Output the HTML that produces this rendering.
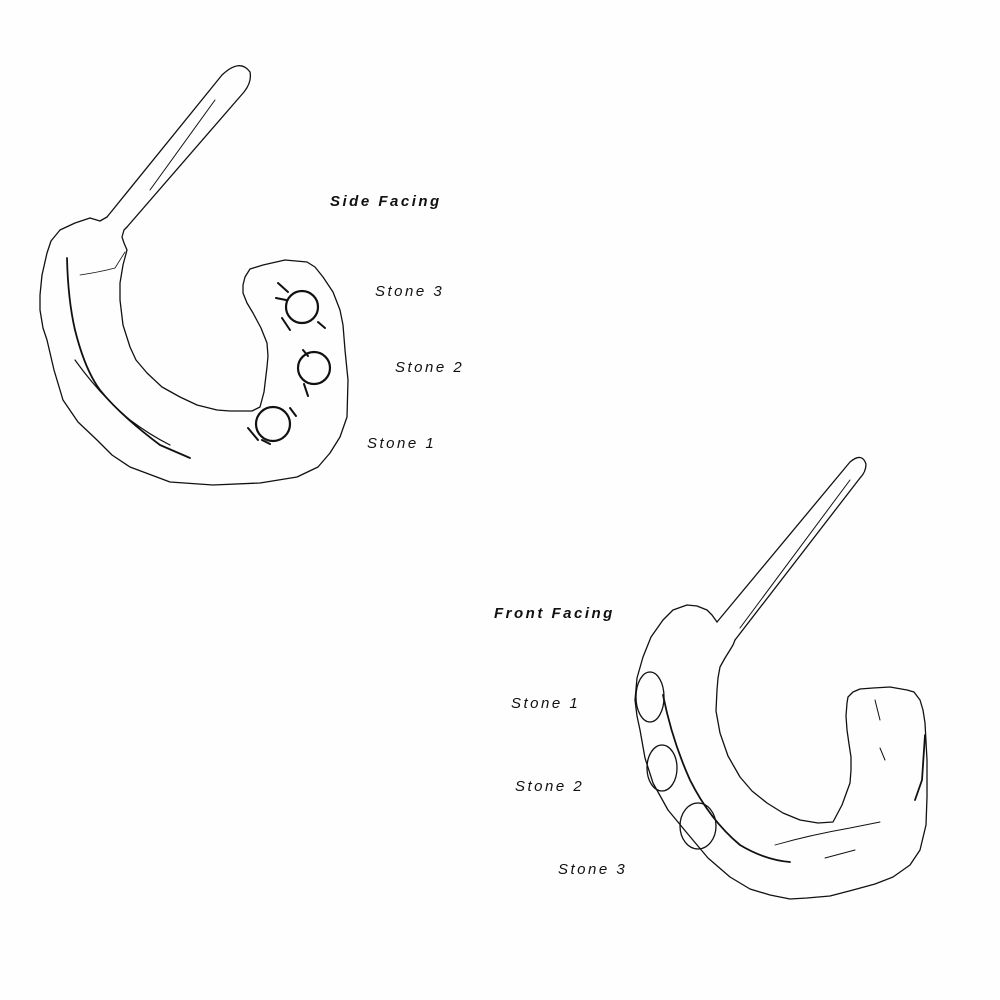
<!DOCTYPE html>
<html><head><meta charset="utf-8"><style>
html,body{margin:0;padding:0;background:#fefefe;}
svg{display:block}
text{font-family:"Liberation Sans",sans-serif;font-style:italic;fill:#111;letter-spacing:2.5px}
</style></head><body>
<svg width="1000" height="1000" viewBox="0 0 1000 1000" xmlns="http://www.w3.org/2000/svg">
<g fill="none" stroke="#111" stroke-width="1.3" stroke-linejoin="round" stroke-linecap="round">
<!-- Top earring post -->
<path d="M107,217 L222,75 Q240,58 250,72 Q252,82 244,92 L127,227"/>
<path d="M150,190 L215,100" stroke-width="1"/>
<!-- Top hoop -->
<polyline points="107,217 100,221 90,218 75,223 60,230 51,241 47,253 42,275 40,295 40,310 43,328 47,340 54,370 63,400 78,422 97,440 112,455 130,467 170,482 213,485 260,483 297,477 318,467 330,453 340,437 347,417 348,380 345,350 343,325 340,310 333,292 323,277 315,267 307,262 285,260 263,265 250,269 245,277 243,285 243,293 247,303 253,313 261,328 267,343 268,356 267,367 264,392 260,407 252,411 243,411 230,411 217,410 197,405 180,397 162,387 147,373 136,360 130,347 123,325 120,300 120,283 123,265 127,250 124,243 122,237 124,230 127,227"/>
<path d="M67,258 Q68,300 75,330 Q85,370 100,390 Q120,415 160,445 L190,458" stroke-width="1.8"/>
<path d="M75,360 Q100,395 130,420 Q150,435 170,445" stroke-width="1.2"/>
<path d="M80,275 Q100,272 115,268 L125,252" stroke-width=".8"/>
<circle cx="302" cy="307" r="16" stroke-width="2.2"/>
<circle cx="314" cy="368" r="16" stroke-width="2.2"/>
<circle cx="273" cy="424" r="17" stroke-width="2.2"/>
<path d="M278,283 L288,292 M276,298 L286,300 M282,318 L290,330 M318,322 L325,328 M303,350 L308,356 M304,384 L308,396 M290,408 L296,416 M248,428 L258,440 M262,440 L270,444" stroke-width="2"/>
<!-- Bottom earring post -->
<path d="M717,622 L850,462 Q862,452 866,464 Q866,472 860,478 L735,640"/>
<path d="M740,628 L850,480" stroke-width="1"/>
<!-- Bottom hoop -->
<polyline points="717,622 712,615 707,610 697,606 687,605 673,610 663,620 651,637 643,657 637,678 635,700 637,716 640,730 645,758 653,783 668,810 687,833 708,858 730,877 750,889 770,895 790,899 807,898 830,896 853,890 875,884 893,877 910,865 920,850 926,825 927,797 927,760 925,723 923,710 920,700 914,692 907,690 890,687 873,688 860,689 853,692 848,697 847,703 846,716 847,730 849,744 851,757 851,770 850,783 842,805 833,822 818,823 800,820 783,813 767,803 752,791 740,777 728,756 720,733 716,711 717,690 718,678 720,667 725,658 730,650 733,645 735,640"/>
<ellipse cx="650" cy="697" rx="14" ry="25"/>
<ellipse cx="662" cy="768" rx="15" ry="23"/>
<ellipse cx="698" cy="826" rx="18" ry="23"/>
<path d="M663,695 Q672,740 690,780 Q710,820 740,845 Q765,860 790,862" stroke-width="1.8"/>
<path d="M775,845 Q810,835 850,828 L880,822" stroke-width=".9"/>
<path d="M825,858 L855,850" stroke-width="1"/>
<path d="M925,735 L922,780 L915,800" stroke-width="1.8"/>
<path d="M875,700 L880,720 M880,748 L885,760" stroke-width="1"/>
</g>
<text x="330" y="206" font-size="15" font-weight="bold">Side Facing</text>
<text x="375" y="296" font-size="15">Stone 3</text>
<text x="395" y="372" font-size="15">Stone 2</text>
<text x="367" y="448" font-size="15">Stone 1</text>
<text x="494" y="618" font-size="15" font-weight="bold">Front Facing</text>
<text x="511" y="708" font-size="15">Stone 1</text>
<text x="515" y="791" font-size="15">Stone 2</text>
<text x="558" y="874" font-size="15">Stone 3</text>
</svg>
</body></html>
